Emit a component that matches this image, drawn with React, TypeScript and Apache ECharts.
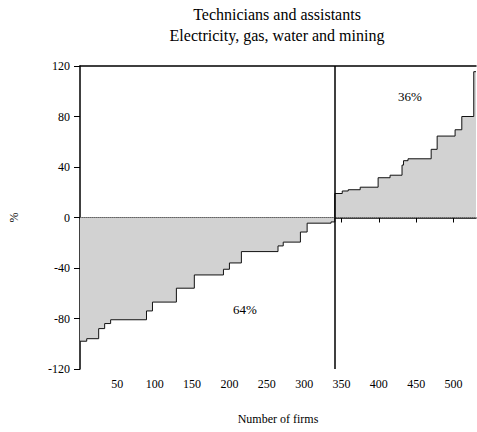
import React, { useEffect, useRef } from "react";
import * as echarts from "echarts";

// Firms ranked by value: each level holds from the previous rank up to its end rank.
const levelEndRank = [9, 25, 33, 41, 89, 97, 129, 153, 192, 200, 216, 265, 272, 295, 304, 336, 341, 351, 359, 375, 399, 415, 431, 433, 439, 470, 478, 502, 511, 527, 530];
const levelValue = [-98, -96, -88, -84, -81, -74, -67, -56, -45.5, -41, -36, -27, -22.5, -19.5, -11.5, -4.5, -3.5, 19, 21, 22, 24, 31.5, 33.5, 41.5, 45, 46.5, 54, 64.5, 69.5, 80, 115.5];

const xTickValues = [50, 100, 150, 200, 250, 300, 350, 400, 450, 500];
const yTickValues = [-120, -80, -40, 0, 40, 80, 120];

const titleLines = ["Technicians and assistants", "Electricity, gas, water and mining"];
const FONT = "Liberation Serif";

export default function App() {
  const ref = useRef<HTMLDivElement>(null);

  useEffect(() => {
    document.body.style.margin = "0";
    if (!ref.current) return;
    const chart = echarts.init(ref.current, undefined, { renderer: "svg" });

    // step points: each level starts at the previous end rank
    const points: [number, number][] = [];
    let prev = 0;
    levelEndRank.forEach((end, i) => {
      points.push([prev, levelValue[i]]);
      prev = end;
    });
    const totalFirms = levelEndRank[levelEndRank.length - 1];
    points.push([totalFirms, levelValue[levelValue.length - 1]]);

    // rank where values turn positive
    let negCount = 0;
    levelValue.forEach((v, i) => {
      if (v < 0) negCount = levelEndRank[i];
    });
    const negShare = Math.round((negCount / totalFirms) * 100);
    const posShare = 100 - negShare;

    const labelStyle = { fontFamily: FONT, fontSize: 12, color: "#000" };

    chart.setOption({
      animation: false,
      textStyle: { fontFamily: FONT, color: "#000" },
      grid: { left: 75, right: 1, top: 66, bottom: 63 },
      xAxis: [
        {
          type: "value",
          min: 0,
          max: totalFirms,
          name: "Number of firms",
          nameLocation: "middle",
          nameGap: 44,
          nameTextStyle: labelStyle,
          axisLine: { show: true, lineStyle: { color: "#000", width: 1.5 } },
          axisTick: { show: true, customValues: xTickValues, length: 5, lineStyle: { color: "#000" } },
          axisLabel: { ...labelStyle, customValues: xTickValues, margin: 9 },
          splitLine: { show: false },
        },
        {
          type: "value",
          position: "top",
          min: 0,
          max: totalFirms,
          axisLine: { show: true, lineStyle: { color: "#000", width: 1.5 } },
          axisTick: { show: false },
          axisLabel: { show: false },
          splitLine: { show: false },
        },
      ],
      yAxis: {
        type: "value",
        min: -120,
        max: 120,
        interval: 40,
        name: "%",
        nameLocation: "middle",
        nameGap: 60,
        nameRotate: 90,
        nameTextStyle: labelStyle,
        axisLine: { show: true, lineStyle: { color: "#000", width: 1.5 } },
        axisTick: { show: true, customValues: yTickValues, length: 6, lineStyle: { color: "#000" } },
        axisLabel: { ...labelStyle, customValues: yTickValues, margin: 10 },
        splitLine: { show: false },
      },
      series: [
        {
          type: "line",
          data: points,
          step: "end",
          symbol: "none",
          lineStyle: { color: "#111", width: 1 },
          areaStyle: { color: "#d2d2d2", opacity: 1, origin: 0 },
          markLine: {
            silent: true,
            symbol: "none",
            label: { show: false },
            data: [
              { yAxis: 0, lineStyle: { color: "#666", width: 1, type: "dotted" } },
              { xAxis: negCount, lineStyle: { color: "#000", width: 1.5, type: "solid" } },
            ],
          },
        },
      ],
      graphic: [
        {
          type: "text",
          x: 277,
          y: 4,
          style: {
            text: titleLines.join("\n"),
            textAlign: "center",
            fontFamily: FONT,
            fontSize: 16,
            lineHeight: 21,
            fill: "#000",
          },
        },
        {
          type: "text",
          x: 245,
          y: 309,
          style: { text: `${negShare}%`, textAlign: "center", textVerticalAlign: "middle", fontFamily: FONT, fontSize: 13, fill: "#000" },
        },
        {
          type: "text",
          x: 410,
          y: 96,
          style: { text: `${posShare}%`, textAlign: "center", textVerticalAlign: "middle", fontFamily: FONT, fontSize: 13, fill: "#000" },
        },
      ],
    });

    return () => chart.dispose();
  }, []);

  return <div ref={ref} style={{ width: 477, height: 432 }} />;
}
